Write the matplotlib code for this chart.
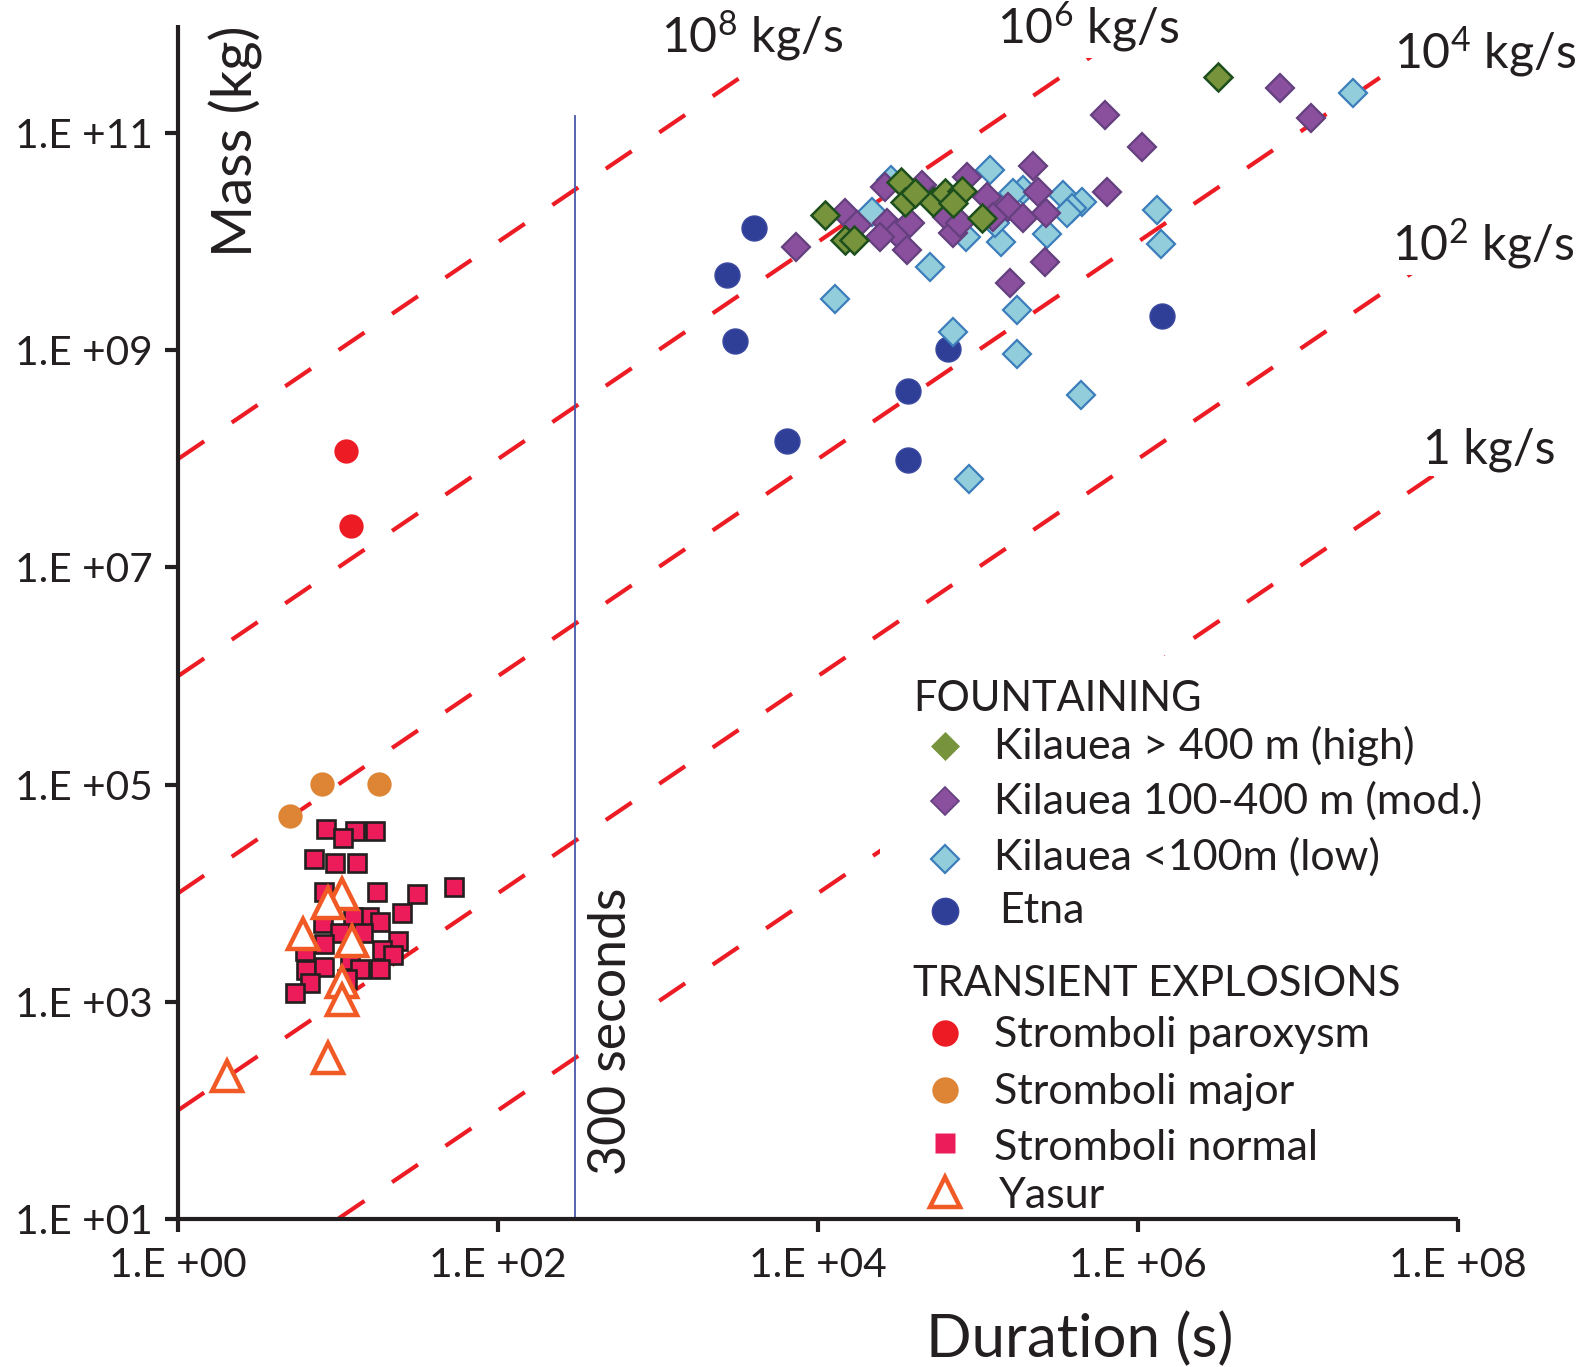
import matplotlib
matplotlib.use('Agg')
import matplotlib.pyplot as plt
from matplotlib.patches import Rectangle
from matplotlib.ticker import NullLocator
import numpy as np

plt.rcParams['font.family'] = ['Lato', 'DejaVu Sans']
plt.rcParams['mathtext.fontset'] = 'custom'
plt.rcParams['mathtext.rm'] = 'Lato'
plt.rcParams['mathtext.it'] = 'Lato'
plt.rcParams['mathtext.bf'] = 'Lato'

# ---------------- data (duration s, mass kg) ----------------
etna_dur = [3980, 2690, 3020, 6430, 36200, 36200, 64700, 1.41e6]
etna_mass = [1.34e10, 4.9e9, 1.22e9, 1.46e8, 4.2e8, 9.75e7, 1.03e9, 2.08e9]

low_dur = [2.2e7, 1.18e5, 21600, 49900, 12700, 3.37e5, 4.43e5, 3.84e5, 1.32e6,
           1.40e6, 2.71e5, 1.40e5, 1.75e5, 69200, 1.75e5, 4.38e5, 87500, 1.91e5,
           1.27e5, 84600, 1.65e5, 3.57e5, 28400]
low_mass = [2.33e11, 4.6e10, 1.89e10, 5.9e9, 2.95e9, 2.69e10, 2.34e10, 2.03e10, 1.96e10,
            9.5e9, 1.17e10, 1.0e10, 2.35e9, 1.48e9, 9.25e8, 3.87e8, 6.5e7, 3.0e10,
            1.48e10, 1.11e10, 2.79e10, 1.83e10, 3.7e10]

mod_dur = [7.76e6, 1.2e7, 6.17e5, 1.06e6, 2.19e5, 2.37e5, 6.4e5, 1.54e5, 1.91e5,
           2.65e5, 2.61e5, 1.58e5, 7250, 14700, 17400, 26100, 26800, 30900, 35700,
           24300, 44300, 52300, 63500, 69800, 84700, 76900, 1.13e5, 1.24e5, 37400]
mod_mass = [2.59e11, 1.37e11, 1.47e11, 7.5e10, 4.99e10, 2.89e10, 2.89e10, 2.1e10, 1.64e10,
            1.85e10, 6.5e9, 4.2e9, 8.9e9, 1.83e10, 1.43e10, 3.2e10, 1.48e10, 1.2e10, 8.4e9,
            1.11e10, 3.33e10, 2.43e10, 1.7e10, 1.2e10, 3.97e10, 1.48e10, 2.6e10, 1.7e10, 1.48e10]

high_dur = [11000, 14700, 16700, 33100, 34800, 52300, 61900, 79100, 69800, 1.05e5, 40200, 3.16e6]
high_mass = [1.76e10, 1.04e10, 1.04e10, 3.57e10, 2.34e10, 2.3e10, 2.79e10, 2.94e10, 2.26e10,
             1.64e10, 2.79e10, 3.3e11]

parox_dur = [11.2, 12.0]
parox_mass = [1.18e8, 2.43e7]

major_dur = [4.96, 7.9, 18.0]
major_mass = [5.1e4, 1.01e5, 1.01e5]

normal_dur = [8.4, 12.7, 17, 10.7, 7.05, 9.5, 13.1, 8.1, 17.5, 31, 52.9, 24.9, 15.6, 12.4,
              18.2, 8.07, 10.2, 14.3, 23.7, 6.2, 8.1, 11.8, 18.7, 22.1, 6.3, 8.1, 13.7,
              18.2, 6.65, 5.4, 11.3]
normal_mass = [3.9e4, 3.7e4, 3.7e4, 3.2e4, 2.05e4, 1.9e4, 1.9e4, 1.03e4, 1.03e4, 9.8e3,
               1.13e4, 6.6e3, 6.05e3, 6.0e3, 5.4e3, 5.3e3, 4.3e3, 4.3e3, 3.6e3, 2.9e3,
               3.4e3, 2.4e3, 3.0e3, 2.7e3, 1.95e3, 2.1e3, 2.0e3, 2.0e3, 1.47e3, 1.2e3, 1.6e3]

yasur_dur = [10.5, 8.6, 6.0, 12.1, 10.5, 10.5, 8.6, 2.02]
yasur_mass = [9.9e3, 8.05e3, 4.2e3, 3.65e3, 1.5e3, 1.04e3, 3.0e2, 2.05e2]

rates = [1e8, 1e6, 1e4, 1e2, 1]
rate_labels = [r'10$^{8}$ kg/s', r'10$^{6}$ kg/s', r'10$^{4}$ kg/s', r'10$^{2}$ kg/s', '1 kg/s']
rate_label_pos = [(661, 52), (997, 43), (1394, 68), (1392, 260), (1423, 464)]  # px, baseline

xtick_exp = [0, 2, 4, 6, 8]
ytick_exp = [1, 3, 5, 7, 9, 11]
vline_dur = 300
vline_top = 1.45e11

# ---------------- figure ----------------
W, H = 1582, 1367
fig = plt.figure(figsize=(W / 100, H / 100), dpi=100)
fig.patch.set_facecolor('white')
X0, X1, YB, YT = 178.3, 1458.0, 1218.7, 24.65
ax = fig.add_axes([X0 / W, 1 - YB / H, (X1 - X0) / W, (YB - YT) / H])


def fx(px):
    return px / W


def fy(py):
    return 1 - py / H


ax.set_xscale('log')
ax.set_yscale('log')
ax.set_xlim(1, 1e8)
ax.set_ylim(10, 1e12)
ax.set_facecolor('none')

DARK = '#231F20'
RED = '#ED1C24'

# rate lines
d = np.logspace(0, 8, 400)
for r in rates:
    ax.plot(d, r * d, color=RED, lw=3.0, dashes=(7.5, 8.0), zorder=1.5,
            solid_capstyle='butt', dash_capstyle='butt')

# 300 s line
ax.plot([vline_dur, vline_dur], [10, vline_top], color='#4858A7', lw=1.3, zorder=1.6)

# points
ax.plot(etna_dur, etna_mass, 'o', ms=18, mfc='#2F3E97', mec='#3B4AA0', mew=1, zorder=3)
ax.plot(low_dur, low_mass, 'D', ms=14, mfc='#92CDDC', mec='#3C7EBA', mew=1.6, zorder=3.1)
ax.plot(mod_dur, mod_mass, 'D', ms=14, mfc='#8A4F9D', mec='#65407F', mew=1.6, zorder=3.2)
ax.plot(high_dur, high_mass, 'D', ms=14, mfc='#77933C', mec='#1D4F1D', mew=1.8, zorder=3.3)
ax.plot(parox_dur, parox_mass, 'o', ms=17.5, mfc='#ED1C24', mec='none', zorder=3)
ax.plot(major_dur, major_mass, 'o', ms=17.5, mfc='#DE8535', mec='none', zorder=3)
ax.plot(normal_dur, normal_mass, 's', ms=12.8, mfc='#EC1C5B', mec=DARK, mew=1.9, zorder=3)
ax.plot(yasur_dur, yasur_mass, '^', ms=22, mfc='white', mec='#F15A24', mew=3.2, zorder=3.5)

# spines / ticks
for s in ['top', 'right']:
    ax.spines[s].set_visible(False)
for s in ['left', 'bottom']:
    ax.spines[s].set_linewidth(3.0)
    ax.spines[s].set_color(DARK)
    ax.spines[s].set_capstyle('butt')

ax.xaxis.set_minor_locator(NullLocator())
ax.yaxis.set_minor_locator(NullLocator())

renderer = fig.canvas.get_renderer()


def fit(t, target):
    bb = t.get_window_extent(renderer)
    w = bb.width if abs(t.get_rotation()) < 1 else bb.height
    t.set_fontsize(t.get_fontsize() * target / w)
    return t.get_fontsize()


dummy = fig.text(0, 0, '1.E +11', fontsize=30)
tick_fs = fit(dummy, 138)
dummy.remove()

ax.set_xticks([10.0 ** e for e in xtick_exp], labels=['1.E +%02d' % e for e in xtick_exp])
ax.set_yticks([10.0 ** e for e in ytick_exp], labels=['1.E +%02d' % e for e in ytick_exp])
ax.tick_params(axis='both', which='major', direction='out', length=9.5, width=3.0,
               color=DARK, labelsize=tick_fs, labelcolor=DARK)
ax.tick_params(axis='x', pad=11)
ax.tick_params(axis='y', pad=9)

# axis titles
t = fig.text(fx(236), fy(141), 'Mass (kg)', rotation=90, ha='center', va='center',
             fontsize=44, color=DARK)
fit(t, 232)
t = fig.text(fx(1080), fy(1357), 'Duration (s)', ha='center', va='baseline',
             fontsize=40, color=DARK)
fit(t, 307)

# 300 seconds label
t = fig.text(fx(611), fy(1031), '300 seconds', rotation=90, ha='center', va='center',
             fontsize=38, color=DARK,
             bbox=dict(facecolor='white', edgecolor='none', pad=1))
fit(t, 288)

# rate labels
rate_texts = []
for lab, (px, py) in zip(rate_labels, rate_label_pos):
    rate_texts.append(fig.text(fx(px), fy(py), lab, ha='left', va='baseline', fontsize=36,
                               color=DARK, bbox=dict(facecolor='white', edgecolor='none', pad=3)))
rfs = fit(rate_texts[0], 182)
for tt in rate_texts:
    tt.set_fontsize(rfs)

# legend panel (white box hides the lines behind it)
ax.add_patch(Rectangle((fx(880), fy(1211)), fx(1582) - fx(880), fy(656) - fy(1211),
                       transform=fig.transFigure, facecolor='white', edgecolor='none',
                       zorder=2.6, clip_on=False))

headers = [('FOUNTAINING', 711), ('TRANSIENT EXPLOSIONS', 996)]
entries = [
    ('Kilauea > 400 m (high)', 759, 746, dict(marker='D', ms=14, mfc='#77933C', mec='#77933C', mew=0.5)),
    ('Kilauea 100-400 m (mod.)', 814, 801, dict(marker='D', ms=14, mfc='#8A4F9D', mec='#65407F', mew=1.2)),
    ('Kilauea <100m (low)', 870, 859, dict(marker='D', ms=14, mfc='#92CDDC', mec='#3C7EBA', mew=1.6)),
    ('Etna', 923, 911, dict(marker='o', ms=19, mfc='#2F3E97', mec='#3B4AA0', mew=1)),
    ('Stromboli paroxysm', 1047, 1033, dict(marker='o', ms=19, mfc='#ED1C24', mec='none')),
    ('Stromboli major', 1104, 1090, dict(marker='o', ms=19, mfc='#DE8535', mec='none')),
    ('Stromboli normal', 1160, 1143, dict(marker='s', ms=14.5, mfc='#EC1C5B', mec='none')),
    ('Yasur', 1208, 1192, dict(marker='^', ms=22, mfc='white', mec='#F15A24', mew=3.2)),
]
htexts = [fig.text(fx(913), fy(y), h, ha='left', va='baseline', fontsize=30, color=DARK)
          for h, y in headers]
hfs = fit(htexts[1], 487)
for tt in htexts:
    tt.set_fontsize(hfs)

etexts = []
for lab, ty, my, mk in entries:
    tx = 999 if lab in ('Etna', 'Yasur') else 994
    etexts.append(fig.text(fx(tx), fy(ty), lab, ha='left', va='baseline', fontsize=30, color=DARK))
    ax.plot([fx(945)], [fy(my)], linestyle='none', transform=fig.transFigure,
            clip_on=False, zorder=4, **mk)
efs = fit(etexts[0], 421)
for tt in etexts:
    tt.set_fontsize(efs)

fig.savefig('out.png', dpi=100, facecolor='white')
